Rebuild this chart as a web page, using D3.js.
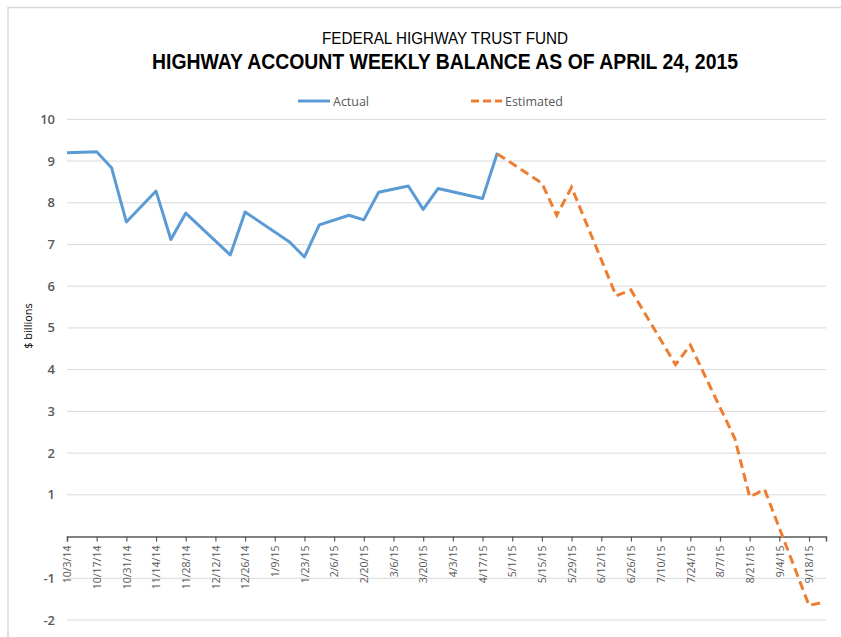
<!DOCTYPE html>
<html>
<head>
<meta charset="utf-8">
<script src="https://cdn.jsdelivr.net/npm/d3@7"></script>
<style>
  body { margin: 0; background: #fff; }
  text { font-family: "Open Sans", "Liberation Sans", sans-serif; }
  .title { font-family: "Liberation Sans Narrow", "Liberation Sans", sans-serif; }
</style>
</head>
<body>
<div id="chart"></div>
<script>
// Data
const actualDates = ["10/3/14", "10/17/14", "10/24/14", "10/31/14", "11/14/14", "11/21/14", "11/28/14",
  "12/19/14", "12/26/14", "1/16/15", "1/23/15", "1/30/15", "2/13/15", "2/20/15", "2/27/15",
  "3/13/15", "3/20/15", "3/27/15", "4/17/15", "4/24/15"];
const actualValues = [9.20, 9.22, 8.84, 7.54, 8.28, 7.12, 7.75,
  6.75, 7.78, 7.06, 6.70, 7.47, 7.70, 7.59, 8.25,
  8.40, 7.84, 8.34, 8.10, 9.20];

const estDates = ["4/24/15", "5/15/15", "5/22/15", "5/29/15", "6/19/15", "6/26/15", "7/17/15",
  "7/24/15", "8/14/15", "8/21/15", "8/28/15", "9/18/15", "9/25/15"];
const estValues = [9.17, 8.47, 7.70, 8.37, 5.77, 5.91, 4.12,
  4.59, 2.35, 0.95, 1.13, -1.65, -1.57];

const tickLabels = ["10/3/14", "10/17/14", "10/31/14", "11/14/14", "11/28/14", "12/12/14", "12/26/14",
  "1/9/15", "1/23/15", "2/6/15", "2/20/15", "3/6/15", "3/20/15", "4/3/15", "4/17/15", "5/1/15",
  "5/15/15", "5/29/15", "6/12/15", "6/26/15", "7/10/15", "7/24/15", "8/7/15", "8/21/15", "9/4/15", "9/18/15"];
const yTicks = [-2, -1, 1, 2, 3, 4, 5, 6, 7, 8, 9, 10];

const W = 841, H = 637;
const plot = { left: 67, right: 826, top: 119.3, bottom: 620 };
const parse = d3.timeParse("%m/%d/%y");

const svg = d3.select("#chart").append("svg")
  .attr("width", W)
  .attr("height", H);

// chart area border (top + left visible)
svg.append("rect")
  .attr("x", 8).attr("y", 7.5)
  .attr("width", W).attr("height", H)
  .attr("fill", "none")
  .attr("stroke", "#d9d9d9")
  .attr("stroke-width", 1.5);

const x = d3.scaleTime()
  .domain([parse("10/3/14"), parse("9/26/15")])
  .range([plot.left, plot.right]);

const y = d3.scaleLinear()
  .domain([-2, 10])
  .range([plot.bottom, plot.top]);

// gridlines
svg.append("g").selectAll("line")
  .data(yTicks).enter()
  .append("line")
  .attr("x1", plot.left).attr("x2", plot.right)
  .attr("y1", d => y(d)).attr("y2", d => y(d))
  .attr("stroke", "#d9d9d9")
  .attr("stroke-width", 1);

// y labels
svg.append("g").selectAll("text")
  .data(yTicks).enter()
  .append("text")
  .attr("x", 55)
  .attr("y", d => y(d) + 4.5)
  .attr("text-anchor", "end")
  .attr("fill", "#595959")
  .style("font-size", "13px")
  .style("font-weight", "600")
  .text(d => d);

// x axis at zero
const xAxis = d3.axisBottom(x)
  .tickValues(tickLabels.map(parse))
  .tickSize(5)
  .tickFormat((d, i) => tickLabels[i]);

const gx = svg.append("g")
  .attr("transform", `translate(0, ${y(0)})`)
  .call(xAxis);
gx.select(".domain").attr("stroke", "#595959").attr("stroke-width", 1.5);
gx.selectAll(".tick line").attr("stroke", "#595959").attr("stroke-width", 1.2);
gx.selectAll(".tick text")
  .attr("transform", "rotate(-90)")
  .attr("x", -9)
  .attr("y", 0)
  .attr("dy", "0.35em")
  .attr("text-anchor", "end")
  .attr("fill", "#595959")
  .style("font-size", "10.5px");

// y axis title
svg.append("text")
  .attr("transform", "translate(32, 326) rotate(-90)")
  .attr("text-anchor", "middle")
  .attr("fill", "#000")
  .style("font-size", "11px")
  .text("$ billions");

// lines
const line = d3.line()
  .x(d => x(d.date))
  .y(d => y(d.value));

const actual = actualDates.map((d, i) => ({ date: parse(d), value: actualValues[i] }));
const estimated = estDates.map((d, i) => ({ date: parse(d), value: estValues[i] }));

svg.append("path")
  .datum(actual)
  .attr("d", line)
  .attr("fill", "none")
  .attr("stroke", "#5b9bd5")
  .attr("stroke-width", 3)
  .attr("stroke-linejoin", "round");

svg.append("path")
  .datum(estimated)
  .attr("d", line)
  .attr("fill", "none")
  .attr("stroke", "#ed7d31")
  .attr("stroke-width", 3)
  .attr("stroke-dasharray", "9,5");

// titles
svg.append("text")
  .attr("class", "title")
  .attr("x", 445).attr("y", 43.5)
  .attr("text-anchor", "middle")
  .attr("fill", "#000")
  .attr("textLength", 246)
  .attr("lengthAdjust", "spacingAndGlyphs")
  .style("font-size", "16px")
  .text("FEDERAL HIGHWAY TRUST FUND");

svg.append("text")
  .attr("class", "title")
  .attr("x", 445).attr("y", 69)
  .attr("text-anchor", "middle")
  .attr("fill", "#000")
  .attr("textLength", 586)
  .attr("lengthAdjust", "spacingAndGlyphs")
  .style("font-size", "22px")
  .style("font-weight", "bold")
  .text("HIGHWAY ACCOUNT WEEKLY BALANCE AS OF APRIL 24, 2015");

// legend
const legend = svg.append("g");
legend.append("line")
  .attr("x1", 298).attr("x2", 330).attr("y1", 101).attr("y2", 101)
  .attr("stroke", "#5b9bd5").attr("stroke-width", 3);
legend.append("text")
  .attr("x", 333).attr("y", 105.5)
  .attr("fill", "#595959")
  .attr("textLength", 36)
  .attr("lengthAdjust", "spacingAndGlyphs")
  .style("font-size", "13px")
  .text("Actual");
legend.append("line")
  .attr("x1", 471).attr("x2", 502).attr("y1", 101).attr("y2", 101)
  .attr("stroke", "#ed7d31").attr("stroke-width", 3)
  .attr("stroke-dasharray", "8,4");
legend.append("text")
  .attr("x", 505).attr("y", 105.5)
  .attr("fill", "#595959")
  .attr("textLength", 58)
  .attr("lengthAdjust", "spacingAndGlyphs")
  .style("font-size", "13px")
  .text("Estimated");
</script>
</body>
</html>
